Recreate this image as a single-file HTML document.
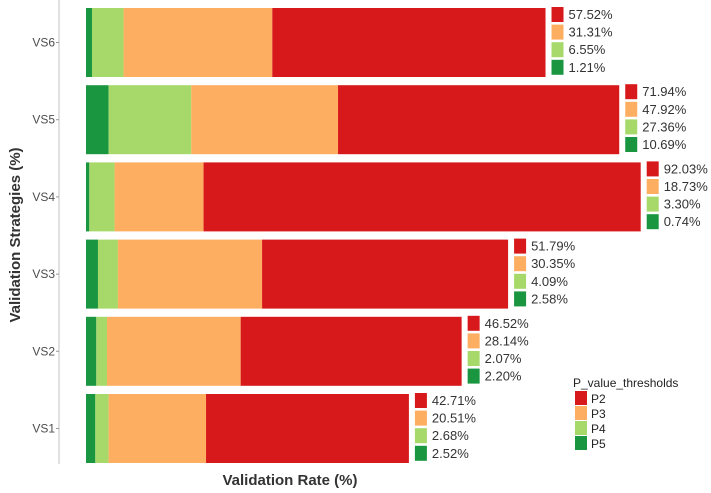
<!DOCTYPE html>
<html><head><meta charset="utf-8"><style>
body{margin:0;background:#fff;}
svg{display:block;font-family:"Liberation Sans",sans-serif;}
</style></head><body>
<svg id="chart" width="711" height="493"></svg>
<script>
const categories = ["VS1","VS2","VS3","VS4","VS5","VS6"];
const seriesNames = ["P5","P4","P3","P2"];
const p5Values = [1.96, 2.17, 2.52, 0.70, 4.76, 1.26];
const p4Values = [2.80, 2.25, 4.20, 5.32, 17.40, 6.65];
const p3Values = [20.51, 28.14, 30.35, 18.73, 30.90, 31.31];
const p2Values = [42.71, 46.52, 51.79, 92.03, 59.20, 57.52];
const p2Labels = ["42.71%","46.52%","51.79%","92.03%","71.94%","57.52%"];
const p3Labels = ["20.51%","28.14%","30.35%","18.73%","47.92%","31.31%"];
const p4Labels = ["2.68%","2.07%","4.09%","3.30%","27.36%","6.55%"];
const p5Labels = ["2.52%","2.20%","2.58%","0.74%","10.69%","1.21%"];
const colors = {P2:"#d7191c",P3:"#fdae61",P4:"#a6d96a",P5:"#1a9641"};

const NS="http://www.w3.org/2000/svg";
const svg=document.getElementById("chart");
function mk(tag,attrs,parent){const e=document.createElementNS(NS,tag);for(const k in attrs)e.setAttribute(k,attrs[k]);(parent||svg).appendChild(e);return e;}
const x0=86, pxPer=4.75;
function xs(v){return x0+v*pxPer;}
function yTop(i){return 394-i*77.2;}
const barH=69;

// axis line
const ax=mk("line",{x1:59,y1:0,x2:59,y2:464,stroke:"#cccccc","stroke-width":1.2});



const seriesVals={P5:p5Values,P4:p4Values,P3:p3Values,P2:p2Values};
const labelsBy=[p2Labels,p3Labels,p4Labels,p5Labels];
const labelColors=[colors.P2,colors.P3,colors.P4,colors.P5];
categories.forEach((c,i)=>{
  const y=yTop(i);
  let acc=0;
  seriesNames.forEach(s=>{
    const v=seriesVals[s][i];
    const r=mk("rect",{x:xs(acc),y:y,width:v*pxPer,height:barH,fill:colors[s]});
    
    
    acc+=v;
  });
  const end=xs(acc);
  const t=mk("text",{x:55,y:y+barH/2+4,"text-anchor":"end","font-size":12,fill:"#4d4d4d"});
  t.textContent=c;
  
  
  const tk=mk("line",{x1:56,x2:59,y1:y+barH/2,y2:y+barH/2,stroke:"#999"});
  
  
  for(let k=0;k<4;k++){
    const sy=y-1+k*17.6;
    const sw=mk("rect",{x:end+6,y:sy,width:12,height:15,fill:labelColors[k]});
    
    
    const lt=mk("text",{x:end+23,y:sy+12,"font-size":13,fill:"#333"});
    lt.textContent=labelsBy[k][i];
    
    
  }
});

const xt=mk("text",{x:290,y:485,"text-anchor":"middle","font-size":15,"font-weight":"bold",fill:"#333"});
xt.textContent="Validation Rate (%)";


const yt=mk("text",{x:0,y:0,"text-anchor":"middle","font-size":15,"font-weight":"bold",fill:"#333",transform:"translate(20,235) rotate(-90)"});
yt.textContent="Validation Strategies (%)";



const lg=mk("g",{});


const ltt=mk("text",{x:573,y:387,"font-size":12,fill:"#222"},lg);
ltt.textContent="P_value_thresholds";


["P2","P3","P4","P5"].forEach((s,k)=>{
  const yy=391+k*15;
  const r=mk("rect",{x:575,y:yy,width:12,height:14,fill:colors[s]},lg);
  
  
  const t=mk("text",{x:591,y:yy+12,"font-size":12,fill:"#222"},lg);
  t.textContent=s;
  
  
});
</script>
</body></html>
